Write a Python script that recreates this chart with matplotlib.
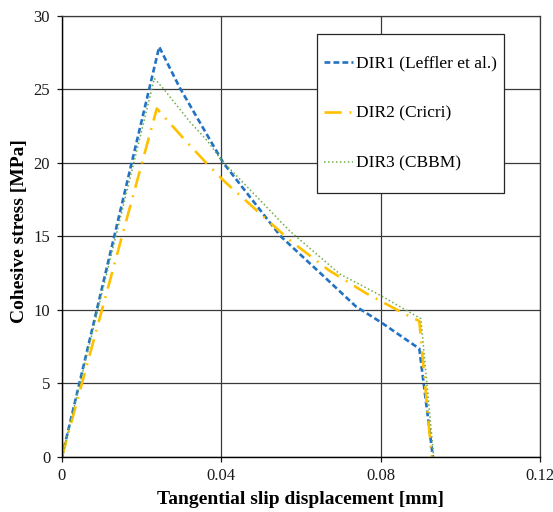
import matplotlib
matplotlib.use("Agg")
import matplotlib.pyplot as plt
from matplotlib.patches import Rectangle

# === Traction-separation curves (tangential slip [mm] vs cohesive stress [MPa]) ===
dir1_slip = [0.0, 0.0244, 0.0296, 0.0405, 0.0549, 0.0655, 0.0738, 0.0800, 0.0897, 0.0931]
dir1_stress = [0.0, 27.9, 25.1, 20.0, 15.0, 12.33, 10.22, 9.16, 7.35, 0.0]

dir2_slip = [0.0, 0.0238, 0.0304, 0.0362, 0.0407, 0.0571, 0.0671, 0.0763, 0.0859, 0.0897, 0.0928]
dir2_stress = [0.0, 23.7, 21.7, 20.0, 18.76, 14.75, 12.67, 11.13, 9.73, 9.23, 0.0]

dir3_slip = [0.0, 0.0232, 0.0254, 0.0321, 0.0365, 0.0400, 0.0571, 0.0697, 0.0800, 0.0901, 0.0933]
dir3_stress = [0.0, 25.75, 25.07, 22.8, 21.5, 20.2, 15.38, 12.44, 10.97, 9.39, 0.0]

x_ticks = [0, 0.04, 0.08, 0.12]
x_tick_labels = ["0", "0.04", "0.08", "0.12"]
y_ticks = [0, 5, 10, 15, 20, 25, 30]

labels = ["DIR1 (Leffler et al.)", "DIR2 (Cricri)", "DIR3 (CBBM)"]

plt.rcParams['font.family'] = ['Liberation Serif', 'DejaVu Serif']

fig = plt.figure(figsize=(5.53, 5.12), dpi=100)
ax = fig.add_axes([0.1121, 0.1082, 0.8644, 0.8605])

grid_col = '#3a3a3a'
ax.set_axisbelow(True)
ax.grid(True, color=grid_col, linewidth=0.9)

ax.plot(dir1_slip, dir1_stress, color='#2272C3', linewidth=1.9,
        linestyle=(0, (2.2, 1.2)), label=labels[0])
ax.plot(dir2_slip, dir2_stress, color='#FFC000', linewidth=1.9,
        linestyle=(0, (6.5, 3, 0.7, 3)), label=labels[1])
ax.plot(dir3_slip, dir3_stress, color='#70AD47', linewidth=1.1,
        linestyle=(0, (1, 1.6)), label=labels[2])

ax.set_xlim(0, 0.12)
ax.set_ylim(0, 30)
ax.set_xticks(x_ticks)
ax.set_xticklabels(x_tick_labels)
ax.set_yticks(y_ticks)
ax.tick_params(direction='out', length=3.5, width=0.9, labelsize=12,
               colors='#1a1a1a', pad=5)

for side in ['top', 'right']:
    ax.spines[side].set_color(grid_col)
    ax.spines[side].set_linewidth(0.9)
for side in ['left', 'bottom']:
    ax.spines[side].set_color('black')
    ax.spines[side].set_linewidth(1.0)

ax.set_xlabel("Tangential slip displacement [mm]", fontsize=14,
              fontweight='bold', labelpad=5)
ax.set_ylabel("Cohesive stress [MPa]", fontsize=14, fontweight='bold')
ax.yaxis.set_label_coords(-0.071, 0.512)

# legend box with a thin drop shadow
bx, by, bw, bh = 0.5335, 0.598, 0.391, 0.361
ax.add_patch(Rectangle((bx + 0.003, by - 0.003), bw, bh, transform=ax.transAxes,
                       facecolor='#8c8c8c', edgecolor='none', zorder=4))
ax.add_patch(Rectangle((bx, by), bw, bh, transform=ax.transAxes,
                       facecolor='white', edgecolor='#262626', linewidth=0.9,
                       zorder=5))
leg = ax.legend(loc='center left', bbox_to_anchor=(bx, by + bh / 2),
                frameon=False, fontsize=12.5, handlelength=1.7,
                handletextpad=0.15, labelspacing=1.95, borderaxespad=0,
                borderpad=0.4)
leg.set_zorder(6)

plt.savefig("out.png", dpi=100)
